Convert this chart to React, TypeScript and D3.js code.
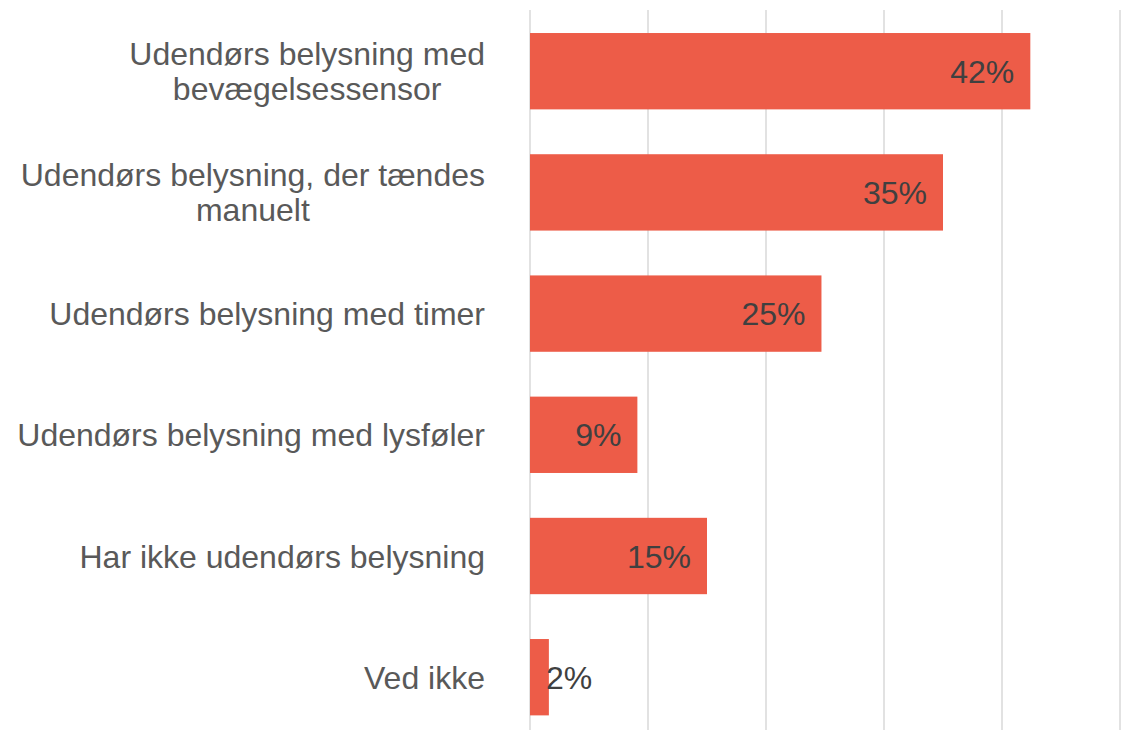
import * as d3 from "d3";

const categories: string[][] = [
  ["Udendørs belysning med", "bevægelsessensor"],
  ["Udendørs belysning, der tændes", "manuelt"],
  ["Udendørs belysning med timer"],
  ["Udendørs belysning med lysføler"],
  ["Har ikke udendørs belysning"],
  ["Ved ikke"],
];
const values: number[] = [42.4, 35.0, 24.7, 9.1, 15.0, 1.6];
const gridTicks: number[] = [0, 10, 20, 30, 40, 50];

const W = 1125;
const H = 730;
const font = "'Liberation Sans', Arial, sans-serif";
const fontSize = 32;

// measure text widths so wrapped label lines can be centred in a right-aligned block
const ctx = document.createElement("canvas").getContext("2d");
function textWidth(s: string): number {
  if (!ctx) return s.length * fontSize * 0.5;
  ctx.font = `${fontSize}px ${font}`;
  return ctx.measureText(s).width;
}

export default function App() {
  const keys = categories.map((c) => c.join(" "));
  const x = d3.scaleLinear().domain([0, 50]).range([530, 1120]);
  const y = d3
    .scaleBand<string>()
    .domain(keys)
    .range([10.6, 737.8])
    .paddingInner(0.37)
    .paddingOuter(0.185);
  const labelRight = 485;

  return (
    <svg
      width={W}
      height={H}
      style={{ position: "absolute", left: 0, top: 0, background: "#fff" }}
    >
      <g>
        {gridTicks.map((t) => (
          <line
            key={t}
            x1={x(t)}
            x2={x(t)}
            y1={10}
            y2={740}
            stroke="#d9d9d9"
            strokeWidth={1.5}
          />
        ))}
      </g>
      <g>
        {values.map((v, i) => (
          <rect
            key={keys[i]}
            x={x(0)}
            y={y(keys[i])}
            width={x(v) - x(0)}
            height={y.bandwidth()}
            fill="#ed5c48"
          />
        ))}
      </g>
      <g fontFamily={font} fontSize={fontSize} fill="#404040">
        {values.map((v, i) => {
          const label = `${Math.round(v)}%`;
          const cy = (y(keys[i]) as number) + y.bandwidth() / 2;
          const narrow = x(v) - x(0) < 70;
          return (
            <text
              key={keys[i]}
              x={narrow ? x(0) + 16 : x(v) - 16}
              y={cy}
              dy="0.36em"
              textAnchor={narrow ? "start" : "end"}
            >
              {label}
            </text>
          );
        })}
      </g>
      <g fontFamily={font} fontSize={fontSize} fill="#595959">
        {categories.map((lines, i) => {
          const cy = (y(keys[i]) as number) + y.bandwidth() / 2;
          const lh = 35;
          const start = cy - ((lines.length - 1) * lh) / 2;
          const longest = Math.max(...lines.map(textWidth));
          const center = labelRight - longest / 2;
          return (
            <g key={keys[i]}>
              {lines.map((l, j) => (
                <text
                  key={j}
                  x={lines.length > 1 ? center : labelRight}
                  y={start + j * lh}
                  dy="0.36em"
                  textAnchor={lines.length > 1 ? "middle" : "end"}
                >
                  {l}
                </text>
              ))}
            </g>
          );
        })}
      </g>
    </svg>
  );
}
